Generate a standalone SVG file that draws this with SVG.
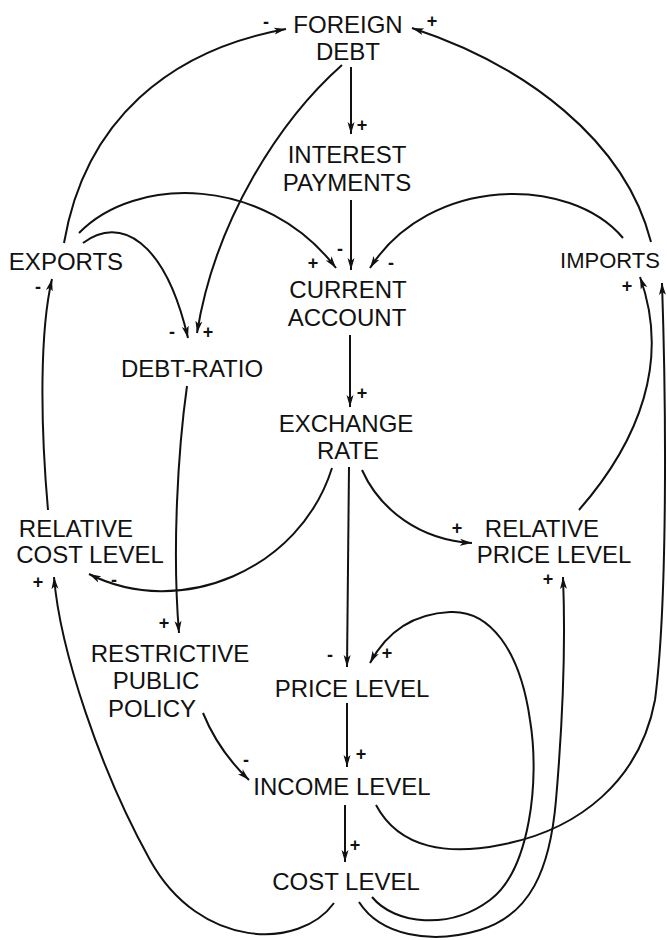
<svg xmlns="http://www.w3.org/2000/svg" width="667" height="940" viewBox="0 0 667 940">
<defs>
<style>
.n{font-family:"Liberation Sans",Arial,sans-serif;font-size:24px;fill:#111;text-anchor:middle}
.s{font-family:"Liberation Sans",Arial,sans-serif;font-size:18px;font-weight:bold;fill:#111;text-anchor:middle}
.c{fill:none;stroke:#111;stroke-width:2;marker-end:url(#ah)}
</style>
<marker id="ah" markerUnits="userSpaceOnUse" markerWidth="13" markerHeight="8" refX="12" refY="4" orient="auto">
<path d="M0,0.5 L12,4 L0,7.5 L3,4 z" fill="#111"/>
</marker>
</defs>
<rect width="667" height="940" fill="#fff"/>
<g id="connectors">
<path class="c" d="M64,243 C85,120 170,50 286,29"/>
<path class="c" d="M651,242 C625,140 525,65 412,28"/>
<path class="c" d="M351,67 L351,134"/>
<path class="c" d="M342,65 C280,120 215,220 197,333"/>
<path class="c" d="M79,233 C135,175 265,175 336,268"/>
<path class="c" d="M83,243 C120,215 165,240 188,338"/>
<path class="c" d="M351,200 L351,270"/>
<path class="c" d="M623,238 C570,175 430,175 370,268"/>
<path class="c" d="M350,335 L350,407"/>
<path class="c" d="M332,468 C300,570 180,620 89,574"/>
<path class="c" d="M362,470 C380,510 420,540 472,543"/>
<path class="c" d="M349,467 L347,667"/>
<path class="c" d="M48,510 C40,420 40,330 52,279"/>
<path class="c" d="M579,510 C640,440 670,360 640,277"/>
<path class="c" d="M376,805 C400,850 450,855 500,845 C580,830 640,780 655,700 C668,600 666,400 662,283"/>
<path class="c" d="M334,903 C300,950 200,950 150,860 C100,770 60,650 54,577"/>
<path class="c" d="M187,386 C178,450 172,550 179,633"/>
<path class="c" d="M203,713 C212,735 228,760 249,780"/>
<path class="c" d="M347,703 L347,767"/>
<path class="c" d="M345,805 L345,862"/>
<path class="c" d="M372,897 C395,925 450,930 490,900 C530,870 540,780 530,720 C520,650 490,610 450,612 C410,614 385,635 370,663"/>
<path class="c" d="M359,902 C380,935 430,945 480,930 C530,915 550,870 556,800 C562,730 566,650 563,577"/>
</g>
<g id="signs">
<text class="s" x="266" y="28">-</text>
<text class="s" x="432" y="27">+</text>
<text class="s" x="362" y="131">+</text>
<text class="s" x="340" y="255">-</text>
<text class="s" x="313" y="269">+</text>
<text class="s" x="391" y="269">-</text>
<text class="s" x="38" y="293">-</text>
<text class="s" x="627" y="292">+</text>
<text class="s" x="172" y="338">-</text>
<text class="s" x="208" y="338">+</text>
<text class="s" x="362" y="399">+</text>
<text class="s" x="457" y="534">+</text>
<text class="s" x="114" y="586">-</text>
<text class="s" x="38" y="588">+</text>
<text class="s" x="548" y="585">+</text>
<text class="s" x="164" y="629">+</text>
<text class="s" x="330" y="661">-</text>
<text class="s" x="387" y="659">+</text>
<text class="s" x="246" y="766">-</text>
<text class="s" x="361" y="760">+</text>
<text class="s" x="355" y="851">+</text>
</g>
<g id="foreign-debt"><text class="n" x="348" y="33">FOREIGN</text><text class="n" x="348" y="60">DEBT</text></g>
<g id="interest-payments"><text class="n" x="347" y="163">INTEREST</text><text class="n" x="347" y="191">PAYMENTS</text></g>
<g id="current-account"><text class="n" x="348" y="298">CURRENT</text><text class="n" x="347" y="326">ACCOUNT</text></g>
<g id="exports"><text class="n" x="66" y="270">EXPORTS</text></g>
<g id="imports"><text class="n" x="610" y="268" style="font-size:22px">IMPORTS</text></g>
<g id="debt-ratio"><text class="n" x="192" y="377">DEBT-RATIO</text></g>
<g id="exchange-rate"><text class="n" x="346" y="432">EXCHANGE</text><text class="n" x="348" y="459">RATE</text></g>
<g id="relative-cost-level"><text class="n" x="76" y="537">RELATIVE</text><text class="n" x="90" y="563">COST LEVEL</text></g>
<g id="relative-price-level"><text class="n" x="542" y="537">RELATIVE</text><text class="n" x="554" y="563">PRICE LEVEL</text></g>
<g id="restrictive-public-policy"><text class="n" x="170" y="662">RESTRICTIVE</text><text class="n" x="156" y="689">PUBLIC</text><text class="n" x="152" y="717">POLICY</text></g>
<g id="price-level"><text class="n" x="352" y="697">PRICE LEVEL</text></g>
<g id="income-level"><text class="n" x="342" y="795">INCOME LEVEL</text></g>
<g id="cost-level"><text class="n" x="346" y="890">COST LEVEL</text></g>
</svg>
